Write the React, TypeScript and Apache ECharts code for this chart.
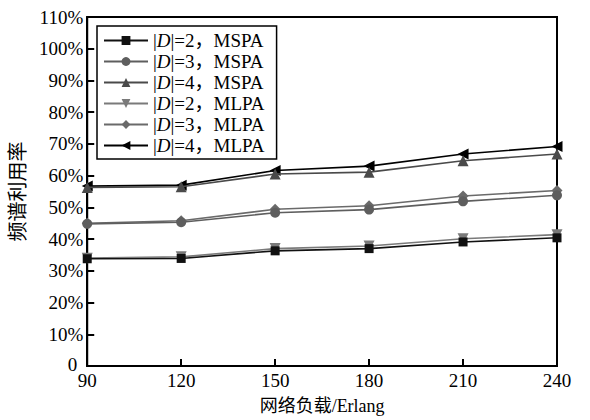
import React, { useEffect, useRef } from "react";
import * as echarts from "echarts";

const loads = [90, 120, 150, 180, 210, 240];
const seriesNames = [
  "|D|=2，MSPA",
  "|D|=3，MSPA",
  "|D|=4，MSPA",
  "|D|=2，MLPA",
  "|D|=3，MLPA",
  "|D|=4，MLPA",
];
const mspa2 = [33.8, 33.9, 36.3, 37.0, 39.1, 40.4];
const mspa3 = [44.8, 45.3, 48.3, 49.3, 51.9, 53.8];
const mspa4 = [56.3, 56.5, 60.5, 61.1, 64.7, 66.8];
const mlpa2 = [34.0, 34.4, 37.0, 37.8, 40.1, 41.4];
const mlpa3 = [45.0, 45.8, 49.4, 50.5, 53.6, 55.3];
const mlpa4 = [56.7, 57.0, 61.6, 63.0, 66.8, 69.2];
const yTicks = [0, 10, 20, 30, 40, 50, 60, 70, 80, 90, 100, 110];

const seriesData = [mspa2, mspa3, mspa4, mlpa2, mlpa3, mlpa4];
const colors = ["#111111", "#5e5e5e", "#4a4a4a", "#7a7a7a", "#6a6a6a", "#000000"];
const symbols = ["rect", "circle", "triangle", "triangle", "diamond", "triangle"];
const rotates = [0, 0, 0, 180, 0, 90];
const sizes = [9, 10, 11, 11, 11, 11];

const FONT = "'Liberation Serif', 'Times New Roman', 'Noto Sans CJK SC', serif";

export default function App() {
  const ref = useRef<HTMLDivElement>(null);
  useEffect(() => {
    if (!ref.current) return;
    const chart = echarts.init(ref.current, null, { renderer: "svg" });
    chart.setOption({
      animation: false,
      backgroundColor: "#ffffff",
      textStyle: { fontFamily: FONT },
      grid: {
        left: 82,
        right: 33,
        top: 17,
        bottom: 52,
        show: true,
        borderColor: "#000",
        borderWidth: 2,
        containLabel: false,
      },
      legend: {
        orient: "vertical",
        left: 97,
        top: 26,
        itemWidth: 44,
        itemHeight: 11,
        itemGap: 2,
        padding: [5, 12, 4, 6],
        borderColor: "#000",
        borderWidth: 1.5,
        backgroundColor: "#fff",
        data: seriesNames,
        formatter: (name: string) => name.replace("D", "{i|D}"),
        textStyle: {
          fontFamily: FONT,
          fontSize: 19,
          color: "#000",
          rich: {
            i: { fontStyle: "italic", fontFamily: FONT, fontSize: 19, color: "#000" },
          },
        },
      },
      xAxis: {
        type: "value",
        min: 90,
        max: 240,
        interval: 30,
        name: "网络负载/Erlang",
        nameLocation: "middle",
        nameGap: 31,
        nameTextStyle: { fontFamily: FONT, fontSize: 18, color: "#000" },
        axisLine: { show: true, lineStyle: { color: "#000", width: 2 } },
        axisTick: { show: true, inside: true, length: 7, lineStyle: { color: "#000", width: 2 } },
        axisLabel: { fontFamily: FONT, fontSize: 19, lineHeight: 13, color: "#000", margin: 8 },
        splitLine: { show: false },
      },
      yAxis: {
        type: "value",
        min: 0,
        max: 110,
        interval: 10,
        name: "频谱利用率",
        nameLocation: "middle",
        nameRotate: 90,
        nameGap: 40,
        nameTextStyle: { fontFamily: FONT, fontSize: 20, color: "#000" },
        axisLine: { show: true, lineStyle: { color: "#000", width: 2 } },
        axisTick: { show: true, inside: true, length: 7, lineStyle: { color: "#000", width: 2 } },
        axisLabel: {
          fontFamily: FONT,
          fontSize: 19,
          lineHeight: 12,
          color: "#000",
          margin: 4,
          formatter: (v: number) =>
            yTicks.includes(v) ? (v === 0 ? "{z|0}" : v + "%") : "",
          rich: {
            z: {
              fontFamily: FONT,
              fontSize: 19,
              lineHeight: 12,
              color: "#000",
              padding: [0, 6, 3, 0],
            },
          },
        },
        splitLine: { show: false },
      },
      series: seriesNames.map((name, i) => ({
        name,
        type: "line",
        data: loads.map((x, j) => [x, seriesData[i][j]]),
        symbol: symbols[i],
        symbolRotate: rotates[i],
        symbolSize: sizes[i],
        showAllSymbol: true,
        clip: false,
        lineStyle: { color: colors[i], width: 1.6 },
        itemStyle: { color: colors[i] },
        z: 10 - i,
      })),
    });
    return () => chart.dispose();
  }, []);
  return (
    <div
      ref={ref}
      style={{ position: "absolute", left: 0, top: 0, width: 590, height: 420 }}
    />
  );
}
